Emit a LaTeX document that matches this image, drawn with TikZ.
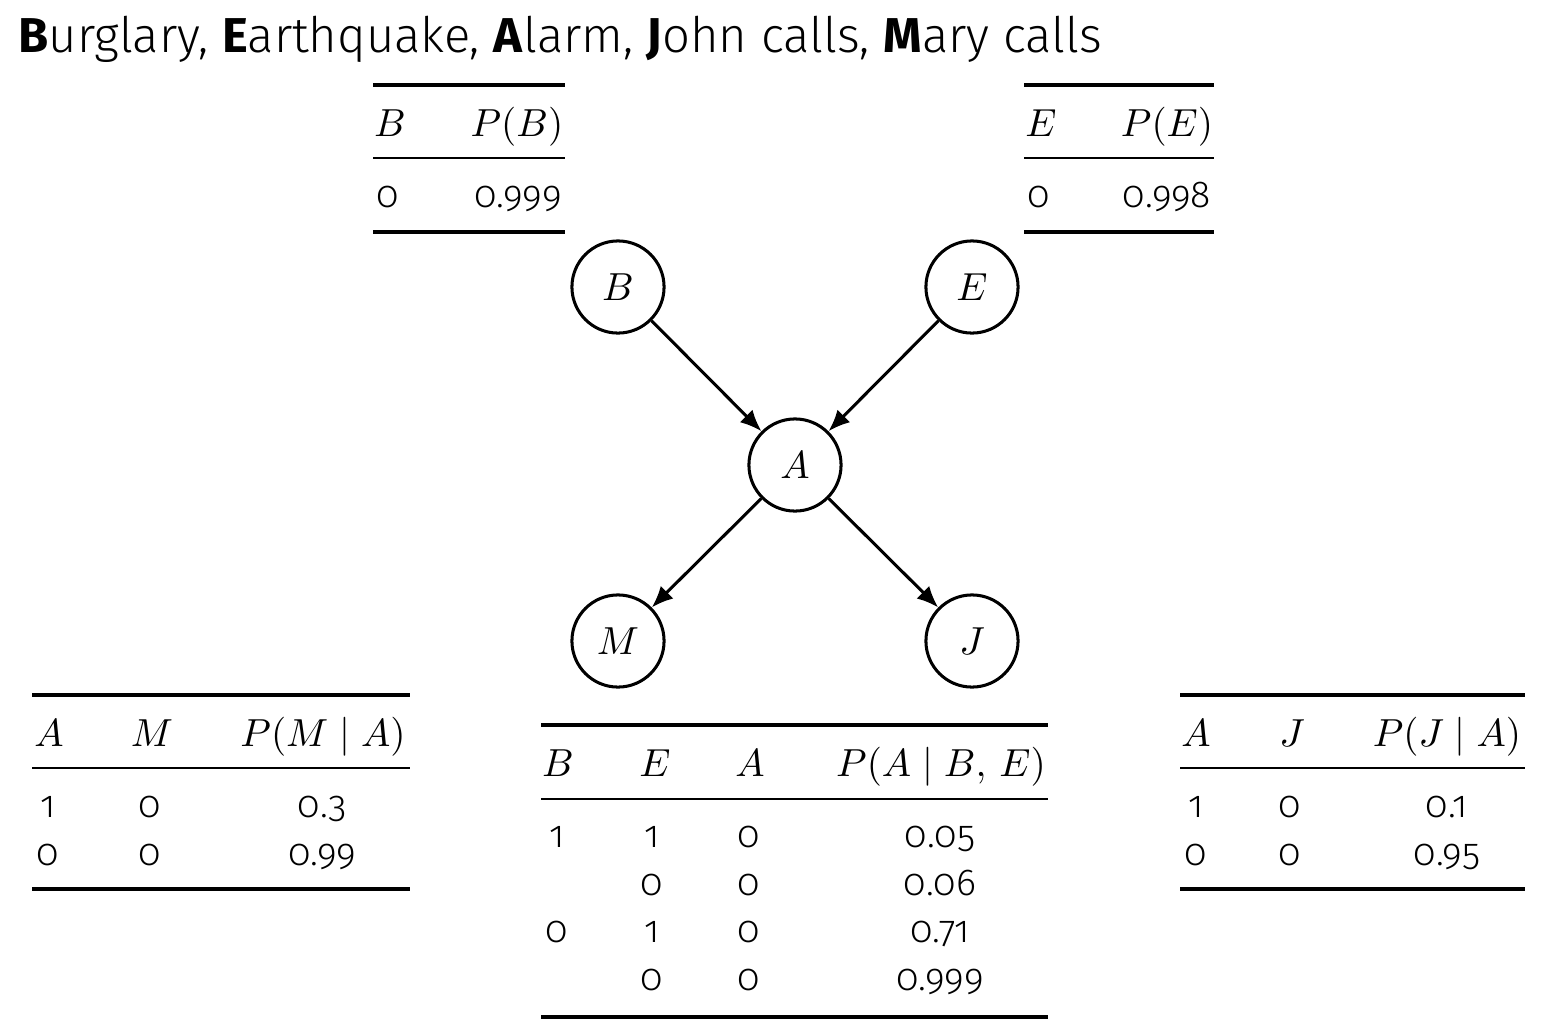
\documentclass[tikz,border=0pt]{standalone}
\usepackage[no-math]{fontspec}
\IfFontExistsTF{Fira Sans Light}
  {\setmainfont{Fira Sans Light}[BoldFont={Fira Sans Bold}, Numbers=OldStyle]}
  {\setmainfont{Fira Sans}[Numbers=OldStyle]}
\usetikzlibrary{arrows.meta}
\begin{document}
\begin{tikzpicture}[x=0.28pt,y=-0.28pt,
  var/.style={circle,draw,line width=0.85pt,minimum size=25.8pt,inner sep=0pt,font=\fontsize{11}{13}\selectfont},
  arr/.style={line width=0.85pt,-{Latex[length=6pt,width=5pt]}},
  cell/.style={anchor=base,inner sep=0pt,font=\fontsize{10.5}{12}\selectfont},
  mcell/.style={anchor=base,inner sep=0pt,font=\fontsize{11}{13}\selectfont},
  heavy/.style={line width=1.1pt},
  light/.style={line width=0.75pt}]
\useasboundingbox (0,0) rectangle (1551,1033);
\node[anchor=base west,inner sep=0pt,font=\fontsize{13.7}{16}\selectfont] (title) at (18,52)
  {\textbf{B}urglary, \textbf{E}arthquake, \textbf{A}larm, \textbf{J}ohn calls, \textbf{M}ary calls};

% network
\node[var] (B) at (618,287) {$B$};
\node[var] (E) at (972,287) {$E$};
\node[var] (A) at (795,465) {$A$};
\node[var] (M) at (618,641) {$M$};
\node[var] (J) at (972,641) {$J$};
\draw[arr] (B) -- (A);
\draw[arr] (E) -- (A);
\draw[arr] (A) -- (M);
\draw[arr] (A) -- (J);

% P(B)
\draw[heavy] (373,85) -- (565,85);
\draw[light] (373,158) -- (565,158);
\draw[heavy] (373,232) -- (565,232);
\node[mcell] (pb11) at (390,136) {$B$};
\node[mcell] (pb12) at (517,136) {$P(B)$};
\node[cell] (pb21) at (388,207) {0};
\node[cell] (pb22) at (518,207) {0.999};

% P(E)
\draw[heavy] (1024,85) -- (1214,85);
\draw[light] (1024,158) -- (1214,158);
\draw[heavy] (1024,232) -- (1214,232);
\node[mcell] (pe11) at (1041,136) {$E$};
\node[mcell] (pe12) at (1167,136) {$P(E)$};
\node[cell] (pe21) at (1039,207) {0};
\node[cell] (pe22) at (1167,207) {0.998};

% P(M|A)
\draw[heavy] (32,695) -- (410,695);
\draw[light] (32,768) -- (410,768);
\draw[heavy] (32,889) -- (410,889);
\node[mcell] (pm11) at (49,746) {$A$};
\node[mcell] (pm12) at (152,746) {$M$};
\node[mcell] (pm13) at (323,746) {$P(M \mid A)$};
\node[cell] (pm21) at (48,817) {1};
\node[cell] (pm22) at (150,817) {0};
\node[cell] (pm23) at (322,817) {0.3};
\node[cell] (pm31) at (48,865) {0};
\node[cell] (pm32) at (150,865) {0};
\node[cell] (pm33) at (322,865) {0.99};

% P(J|A)
\draw[heavy] (1180,695) -- (1525,695);
\draw[light] (1180,768) -- (1525,768);
\draw[heavy] (1180,889) -- (1525,889);
\node[mcell] (pj11) at (1196,746) {$A$};
\node[mcell] (pj12) at (1292,746) {$J$};
\node[mcell] (pj13) at (1447,746) {$P(J \mid A)$};
\node[cell] (pj21) at (1196,817) {1};
\node[cell] (pj22) at (1290,817) {0};
\node[cell] (pj23) at (1447,817) {0.1};
\node[cell] (pj31) at (1196,865) {0};
\node[cell] (pj32) at (1290,865) {0};
\node[cell] (pj33) at (1447,865) {0.95};

% P(A|B,E)
\draw[heavy] (541,725) -- (1048,725);
\draw[light] (541,799) -- (1048,799);
\draw[heavy] (541,1017) -- (1048,1017);
\node[mcell] (pa11) at (558,776) {$B$};
\node[mcell] (pa12) at (655,776) {$E$};
\node[mcell] (pa13) at (750,776) {$A$};
\node[mcell] (pa14) at (941,776) {$P(A \mid B,\, E)$};
\node[cell] (pa21) at (557,847) {1};
\node[cell] (pa22) at (652,847) {1};
\node[cell] (pa23) at (749,847) {0};
\node[cell] (pa24) at (940,847) {0.05};
\node[cell] (pa32) at (652,895) {0};
\node[cell] (pa33) at (749,895) {0};
\node[cell] (pa34) at (940,895) {0.06};
\node[cell] (pa41) at (557,942) {0};
\node[cell] (pa42) at (652,942) {1};
\node[cell] (pa43) at (749,942) {0};
\node[cell] (pa44) at (940,942) {0.71};
\node[cell] (pa52) at (652,990) {0};
\node[cell] (pa53) at (749,990) {0};
\node[cell] (pa54) at (940,990) {0.999};
\end{tikzpicture}
\end{document}
